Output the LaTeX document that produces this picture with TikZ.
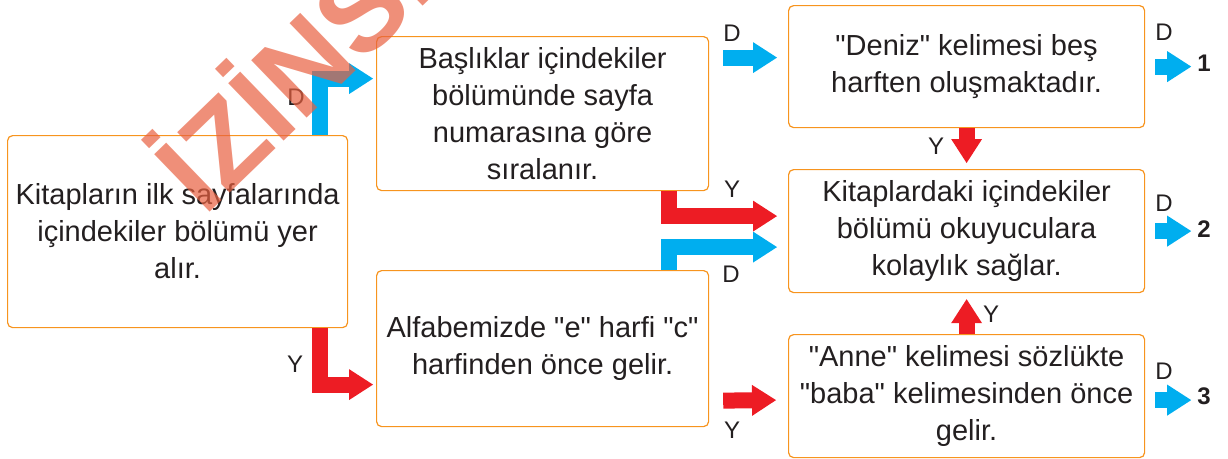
\documentclass[tikz,border=0pt]{standalone}
\usepackage{fontspec}
\setmainfont{Liberation Sans}
\usetikzlibrary{arrows.meta}
\definecolor{boxorange}{RGB}{247,148,30}
\definecolor{okblue}{RGB}{0,174,239}
\definecolor{okred}{RGB}{237,28,36}
\definecolor{txtgray}{RGB}{35,31,32}
\definecolor{wmred}{RGB}{232,96,64}
\tikzstyle{box} = [draw=boxorange, line width=1.2pt, rounded corners=5pt, align=center, inner sep=0pt, anchor=north west, font=\fontsize{29}{37}\selectfont, text=txtgray]
\tikzstyle{lbl} = [font=\fontsize{24}{24}\selectfont, text=txtgray]
\tikzstyle{num} = [font=\fontsize{24}{24}\selectfont\bfseries, text=txtgray]
\tikzstyle{bigarr} = [line width=16pt, line join=miter, -{Triangle[width=31pt,length=24pt,line width=0pt]}]
\newcommand{\dq}{\textquotedbl}

\begin{document}
\begin{tikzpicture}[x=1pt, y=-1pt]
    \useasboundingbox (0,0) rectangle (1228,458);
    % boxes
    \node[box, minimum width=340pt, minimum height=192pt] (ilk) at (7,135) {Kitapların ilk sayfalarında\\içindekiler bölümü yer\\alır.};
    \node[box, minimum width=332pt, minimum height=154pt] (baslik) at (376,36) {Başlıklar içindekiler\\bölümünde sayfa\\numarasına göre\\sıralanır.};
    \node[box, minimum width=332pt, minimum height=156pt] (alfabe) at (376,270) {Alfabemizde \dq e\dq{} harfi \dq c\dq\\harfinden önce gelir.};
    \node[box, minimum width=356pt, minimum height=122pt] (deniz) at (788,5) {\dq Deniz\dq{} kelimesi beş\\harften oluşmaktadır.};
    \node[box, minimum width=356pt, minimum height=123pt] (kolay) at (788,169) {Kitaplardaki içindekiler\\bölümü okuyuculara\\kolaylık sağlar.};
    \node[box, minimum width=356pt, minimum height=123pt] (anne) at (788,334) {\dq Anne\dq{} kelimesi sözlükte\\\dq baba\dq{} kelimesinden önce\\gelir.};
    % arrows
    \draw[bigarr, okblue] ([xshift=-28pt]ilk.north east) |- ([xshift=-3pt,yshift=35pt]baslik.west);
    \draw[bigarr, okred] ([xshift=-28pt]ilk.south east) |- ([xshift=-3pt,yshift=-36pt]alfabe.west);
    \draw[bigarr, okblue] ([xshift=14pt,yshift=56pt]baslik.east) -- ([xshift=-11pt,yshift=9pt]deniz.west);
    \draw[bigarr, okred] ([xshift=-40pt]baslik.south east) |- ([xshift=-11pt,yshift=15pt]kolay.west);
    \draw[bigarr, okblue] ([xshift=-40pt]alfabe.north east) |- ([xshift=-11pt,yshift=-16pt]kolay.west);
    \draw[bigarr, okred] ([xshift=14pt,yshift=-52pt]alfabe.east) -- ([xshift=-12pt,yshift=-4pt]anne.west);
    \draw[bigarr, okred] (deniz.south) -- ([yshift=6pt]kolay.north);
    \draw[bigarr, okred] (anne.north) -- ([yshift=-6pt]kolay.south);
    \draw[bigarr, okblue] ([xshift=10pt]deniz.east) -- ([xshift=46pt]deniz.east);
    \draw[bigarr, okblue] ([xshift=10pt]kolay.east) -- ([xshift=46pt]kolay.east);
    \draw[bigarr, okblue] ([xshift=10pt,yshift=-4pt]anne.east) -- ([xshift=46pt,yshift=-4pt]anne.east);
    % labels
    \node[lbl] (d1) at (296,97) {D};
    \node[lbl] (y1) at (295,364) {Y};
    \node[lbl] (d2) at (732,33) {D};
    \node[lbl] (y2) at (732,189) {Y};
    \node[lbl] (d3) at (731,274) {D};
    \node[lbl] (y3) at (732,430) {Y};
    \node[lbl] (y4) at (936,146) {Y};
    \node[lbl] (y5) at (991,314) {Y};
    \node[lbl] (d4) at (1164,32) {D};
    \node[lbl] (d5) at (1164,203) {D};
    \node[lbl] (d6) at (1164,371) {D};
    \node[num] (n1) at (1204,63) {1};
    \node[num] (n2) at (1204,229) {2};
    \node[num] (n3) at (1204,396) {3};
    % watermark
    \node[rotate=44, anchor=base west, inner sep=0pt, font=\fontsize{116}{116}\selectfont\bfseries, text=wmred, opacity=0.7] (wmark) at (204,218) {İZİNSİZ};
\end{tikzpicture}
\end{document}
